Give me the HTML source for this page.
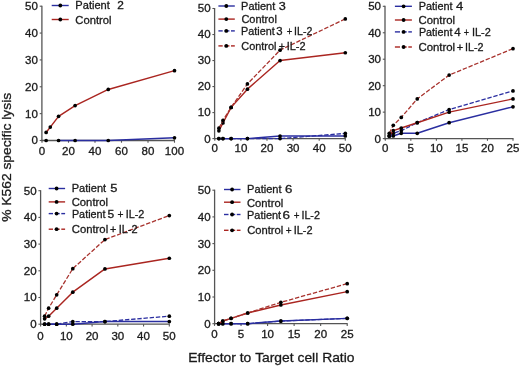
<!DOCTYPE html>
<html><head><meta charset="utf-8"><title>K562 specific lysis</title>
<style>
html,body{margin:0;padding:0;background:#fff;}
body{width:520px;height:366px;overflow:hidden;}
svg{display:block;filter:blur(0.4px);}
text{font-family:"Liberation Sans", sans-serif;fill:#1a1a1a;stroke:#1a1a1a;stroke-width:0.3px;}
</style></head><body>
<svg width="520" height="366" viewBox="0 0 520 366">
<rect width="520" height="366" fill="#fff"/>
<line x1="41.9" y1="5.7" x2="41.9" y2="141.1" stroke="#555555" stroke-width="1.3"/>
<line x1="41.3" y1="140.5" x2="175" y2="140.5" stroke="#555555" stroke-width="1.3"/>
<line x1="39.7" y1="140.5" x2="41.9" y2="140.5" stroke="#555555" stroke-width="1.1"/>
<text x="31.48" y="144.4" font-size="11" textLength="6.42" lengthAdjust="spacingAndGlyphs">0</text>
<line x1="39.7" y1="113.64" x2="41.9" y2="113.64" stroke="#555555" stroke-width="1.1"/>
<text x="25.05" y="117.54" font-size="11" textLength="12.85" lengthAdjust="spacingAndGlyphs">10</text>
<line x1="39.7" y1="86.78" x2="41.9" y2="86.78" stroke="#555555" stroke-width="1.1"/>
<text x="25.05" y="90.68" font-size="11" textLength="12.85" lengthAdjust="spacingAndGlyphs">20</text>
<line x1="39.7" y1="59.92" x2="41.9" y2="59.92" stroke="#555555" stroke-width="1.1"/>
<text x="25.05" y="63.82" font-size="11" textLength="12.85" lengthAdjust="spacingAndGlyphs">30</text>
<line x1="39.7" y1="33.06" x2="41.9" y2="33.06" stroke="#555555" stroke-width="1.1"/>
<text x="25.05" y="36.96" font-size="11" textLength="12.85" lengthAdjust="spacingAndGlyphs">40</text>
<line x1="39.7" y1="6.2" x2="41.9" y2="6.2" stroke="#555555" stroke-width="1.1"/>
<text x="25.05" y="10.1" font-size="11" textLength="12.85" lengthAdjust="spacingAndGlyphs">50</text>
<line x1="42" y1="140.5" x2="42" y2="142.7" stroke="#555555" stroke-width="1.1"/>
<text x="38.79" y="155.3" font-size="11" textLength="6.42" lengthAdjust="spacingAndGlyphs">0</text>
<line x1="68.5" y1="140.5" x2="68.5" y2="142.7" stroke="#555555" stroke-width="1.1"/>
<text x="62.08" y="155.3" font-size="11" textLength="12.85" lengthAdjust="spacingAndGlyphs">20</text>
<line x1="95" y1="140.5" x2="95" y2="142.7" stroke="#555555" stroke-width="1.1"/>
<text x="88.58" y="155.3" font-size="11" textLength="12.85" lengthAdjust="spacingAndGlyphs">40</text>
<line x1="121.5" y1="140.5" x2="121.5" y2="142.7" stroke="#555555" stroke-width="1.1"/>
<text x="115.08" y="155.3" font-size="11" textLength="12.85" lengthAdjust="spacingAndGlyphs">60</text>
<line x1="148" y1="140.5" x2="148" y2="142.7" stroke="#555555" stroke-width="1.1"/>
<text x="141.58" y="155.3" font-size="11" textLength="12.85" lengthAdjust="spacingAndGlyphs">80</text>
<line x1="174.5" y1="140.5" x2="174.5" y2="142.7" stroke="#555555" stroke-width="1.1"/>
<text x="164.86" y="155.3" font-size="11" textLength="19.27" lengthAdjust="spacingAndGlyphs">100</text>
<polyline points="58.56,140.5 75.12,140.5 108.25,140.5 174.5,137.81" fill="none" stroke="#2a2ea0" stroke-width="1.45" stroke-linejoin="round"/>
<circle cx="46.14" cy="140.5" r="1.85" fill="#000"/>
<circle cx="58.56" cy="140.5" r="1.85" fill="#000"/>
<circle cx="75.12" cy="140.5" r="1.85" fill="#000"/>
<circle cx="108.25" cy="140.5" r="1.85" fill="#000"/>
<circle cx="174.5" cy="137.81" r="1.85" fill="#000"/>
<polyline points="46.14,132.44 50.28,127.07 58.56,116.33 75.12,105.58 108.25,89.47 174.5,70.66" fill="none" stroke="#aa2520" stroke-width="1.45" stroke-linejoin="round"/>
<circle cx="46.14" cy="132.44" r="1.85" fill="#000"/>
<circle cx="50.28" cy="127.07" r="1.85" fill="#000"/>
<circle cx="58.56" cy="116.33" r="1.85" fill="#000"/>
<circle cx="75.12" cy="105.58" r="1.85" fill="#000"/>
<circle cx="108.25" cy="89.47" r="1.85" fill="#000"/>
<circle cx="174.5" cy="70.66" r="1.85" fill="#000"/>
<line x1="51.7" y1="5.5" x2="68.7" y2="5.5" stroke="#2a2ea0" stroke-width="1.4"/>
<circle cx="60.3" cy="5.5" r="1.9" fill="#000"/>
<text x="75.39" y="9.3" font-size="11" textLength="34.49" lengthAdjust="spacingAndGlyphs">Patient</text>
<text x="117.3" y="9.3" font-size="11" textLength="6.59" lengthAdjust="spacingAndGlyphs">2</text>
<line x1="51.7" y1="19.5" x2="68.7" y2="19.5" stroke="#aa2520" stroke-width="1.4"/>
<circle cx="60.3" cy="19.5" r="1.9" fill="#000"/>
<text x="75.33" y="24.1" font-size="11" textLength="36.12" lengthAdjust="spacingAndGlyphs">Control</text>
<line x1="214.6" y1="8" x2="214.6" y2="139.2" stroke="#555555" stroke-width="1.3"/>
<line x1="214" y1="138.6" x2="345.8" y2="138.6" stroke="#555555" stroke-width="1.3"/>
<line x1="212.4" y1="138.6" x2="214.6" y2="138.6" stroke="#555555" stroke-width="1.1"/>
<text x="204.18" y="142.5" font-size="11" textLength="6.42" lengthAdjust="spacingAndGlyphs">0</text>
<line x1="212.4" y1="112.58" x2="214.6" y2="112.58" stroke="#555555" stroke-width="1.1"/>
<text x="197.75" y="116.48" font-size="11" textLength="12.85" lengthAdjust="spacingAndGlyphs">10</text>
<line x1="212.4" y1="86.56" x2="214.6" y2="86.56" stroke="#555555" stroke-width="1.1"/>
<text x="197.75" y="90.46" font-size="11" textLength="12.85" lengthAdjust="spacingAndGlyphs">20</text>
<line x1="212.4" y1="60.54" x2="214.6" y2="60.54" stroke="#555555" stroke-width="1.1"/>
<text x="197.75" y="64.44" font-size="11" textLength="12.85" lengthAdjust="spacingAndGlyphs">30</text>
<line x1="212.4" y1="34.52" x2="214.6" y2="34.52" stroke="#555555" stroke-width="1.1"/>
<text x="197.75" y="38.42" font-size="11" textLength="12.85" lengthAdjust="spacingAndGlyphs">40</text>
<line x1="212.4" y1="8.5" x2="214.6" y2="8.5" stroke="#555555" stroke-width="1.1"/>
<text x="197.75" y="12.4" font-size="11" textLength="12.85" lengthAdjust="spacingAndGlyphs">50</text>
<line x1="214.8" y1="138.6" x2="214.8" y2="140.8" stroke="#555555" stroke-width="1.1"/>
<text x="211.59" y="151.9" font-size="11" textLength="6.42" lengthAdjust="spacingAndGlyphs">0</text>
<line x1="240.9" y1="138.6" x2="240.9" y2="140.8" stroke="#555555" stroke-width="1.1"/>
<text x="234.48" y="151.9" font-size="11" textLength="12.85" lengthAdjust="spacingAndGlyphs">10</text>
<line x1="267" y1="138.6" x2="267" y2="140.8" stroke="#555555" stroke-width="1.1"/>
<text x="260.58" y="151.9" font-size="11" textLength="12.85" lengthAdjust="spacingAndGlyphs">20</text>
<line x1="293.1" y1="138.6" x2="293.1" y2="140.8" stroke="#555555" stroke-width="1.1"/>
<text x="286.68" y="151.9" font-size="11" textLength="12.85" lengthAdjust="spacingAndGlyphs">30</text>
<line x1="319.2" y1="138.6" x2="319.2" y2="140.8" stroke="#555555" stroke-width="1.1"/>
<text x="312.78" y="151.9" font-size="11" textLength="12.85" lengthAdjust="spacingAndGlyphs">40</text>
<line x1="345.3" y1="138.6" x2="345.3" y2="140.8" stroke="#555555" stroke-width="1.1"/>
<text x="338.88" y="151.9" font-size="11" textLength="12.85" lengthAdjust="spacingAndGlyphs">50</text>
<polyline points="218.88,138.6 222.96,138.6 231.11,138.6 247.43,138.6 280.05,136 345.3,136" fill="none" stroke="#2a2ea0" stroke-width="1.45" stroke-linejoin="round"/>
<circle cx="218.88" cy="138.6" r="1.85" fill="#000"/>
<circle cx="222.96" cy="138.6" r="1.85" fill="#000"/>
<circle cx="231.11" cy="138.6" r="1.85" fill="#000"/>
<circle cx="247.43" cy="138.6" r="1.85" fill="#000"/>
<circle cx="280.05" cy="136" r="1.85" fill="#000"/>
<circle cx="345.3" cy="136" r="1.85" fill="#000"/>
<polyline points="218.88,138.6 222.96,138.6 231.11,138.6 247.43,138.6 280.05,138.6 345.3,133.4" fill="none" stroke="#2a2ea0" stroke-width="1.3" stroke-dasharray="4.4,1.8" stroke-linejoin="round"/>
<circle cx="218.88" cy="138.6" r="1.85" fill="#000"/>
<circle cx="222.96" cy="138.6" r="1.85" fill="#000"/>
<circle cx="231.11" cy="138.6" r="1.85" fill="#000"/>
<circle cx="247.43" cy="138.6" r="1.85" fill="#000"/>
<circle cx="280.05" cy="138.6" r="1.85" fill="#000"/>
<circle cx="345.3" cy="133.4" r="1.85" fill="#000"/>
<polyline points="218.88,130.79 222.96,122.99 231.11,107.38 247.43,89.16 280.05,60.54 345.3,52.73" fill="none" stroke="#aa2520" stroke-width="1.45" stroke-linejoin="round"/>
<circle cx="218.88" cy="130.79" r="1.85" fill="#000"/>
<circle cx="222.96" cy="122.99" r="1.85" fill="#000"/>
<circle cx="231.11" cy="107.38" r="1.85" fill="#000"/>
<circle cx="247.43" cy="89.16" r="1.85" fill="#000"/>
<circle cx="280.05" cy="60.54" r="1.85" fill="#000"/>
<circle cx="345.3" cy="52.73" r="1.85" fill="#000"/>
<polyline points="218.88,128.19 222.96,120.39 231.11,107.38 247.43,83.96 280.05,50.13 345.3,18.91" fill="none" stroke="#a8332e" stroke-width="1.3" stroke-dasharray="4.4,1.8" stroke-linejoin="round"/>
<circle cx="218.88" cy="128.19" r="1.85" fill="#000"/>
<circle cx="222.96" cy="120.39" r="1.85" fill="#000"/>
<circle cx="231.11" cy="107.38" r="1.85" fill="#000"/>
<circle cx="247.43" cy="83.96" r="1.85" fill="#000"/>
<circle cx="280.05" cy="50.13" r="1.85" fill="#000"/>
<circle cx="345.3" cy="18.91" r="1.85" fill="#000"/>
<line x1="218.4" y1="6" x2="234.8" y2="6" stroke="#2a2ea0" stroke-width="1.4"/>
<circle cx="226.3" cy="6" r="1.9" fill="#000"/>
<text x="241.1" y="9.8" font-size="11" textLength="34.08" lengthAdjust="spacingAndGlyphs">Patient</text>
<text x="278.82" y="9.8" font-size="11" textLength="7.04" lengthAdjust="spacingAndGlyphs">3</text>
<line x1="218.4" y1="19.1" x2="234.8" y2="19.1" stroke="#aa2520" stroke-width="1.4"/>
<circle cx="226.3" cy="19.1" r="1.9" fill="#000"/>
<text x="241.44" y="22.9" font-size="11" textLength="35.39" lengthAdjust="spacingAndGlyphs">Control</text>
<line x1="218.4" y1="30.9" x2="222.7" y2="30.9" stroke="#2a2ea0" stroke-width="1.4"/>
<line x1="224.5" y1="30.9" x2="229.4" y2="30.9" stroke="#2a2ea0" stroke-width="1.4"/>
<line x1="231" y1="30.9" x2="234.8" y2="30.9" stroke="#2a2ea0" stroke-width="1.4"/>
<circle cx="226.3" cy="30.9" r="1.9" fill="#000"/>
<text x="241.11" y="34.7" font-size="11" textLength="33.67" lengthAdjust="spacingAndGlyphs">Patient</text>
<text x="276.17" y="34.7" font-size="11" textLength="6.33" lengthAdjust="spacingAndGlyphs">3</text>
<text x="286.74" y="34.7" font-size="11" textLength="5.53" lengthAdjust="spacingAndGlyphs">+</text>
<text x="294.12" y="34.7" font-size="11" textLength="18.21" lengthAdjust="spacingAndGlyphs">IL-2</text>
<line x1="218.4" y1="45.9" x2="222.7" y2="45.9" stroke="#aa2520" stroke-width="1.4"/>
<line x1="224.5" y1="45.9" x2="229.4" y2="45.9" stroke="#aa2520" stroke-width="1.4"/>
<line x1="231" y1="45.9" x2="234.8" y2="45.9" stroke="#aa2520" stroke-width="1.4"/>
<circle cx="226.3" cy="45.9" r="1.9" fill="#000"/>
<text x="241.25" y="50.2" font-size="11" textLength="35.18" lengthAdjust="spacingAndGlyphs">Control</text>
<text x="278.78" y="50.2" font-size="11" textLength="6.25" lengthAdjust="spacingAndGlyphs">+</text>
<text x="286.69" y="50.2" font-size="11" textLength="18.86" lengthAdjust="spacingAndGlyphs">IL-2</text>
<line x1="385" y1="5.8" x2="385" y2="139.2" stroke="#555555" stroke-width="1.3"/>
<line x1="384.4" y1="138.6" x2="513.5" y2="138.6" stroke="#555555" stroke-width="1.3"/>
<line x1="382.8" y1="138.6" x2="385" y2="138.6" stroke="#555555" stroke-width="1.1"/>
<text x="374.58" y="142.5" font-size="11" textLength="6.42" lengthAdjust="spacingAndGlyphs">0</text>
<line x1="382.8" y1="112.14" x2="385" y2="112.14" stroke="#555555" stroke-width="1.1"/>
<text x="368.15" y="116.04" font-size="11" textLength="12.85" lengthAdjust="spacingAndGlyphs">10</text>
<line x1="382.8" y1="85.68" x2="385" y2="85.68" stroke="#555555" stroke-width="1.1"/>
<text x="368.15" y="89.58" font-size="11" textLength="12.85" lengthAdjust="spacingAndGlyphs">20</text>
<line x1="382.8" y1="59.22" x2="385" y2="59.22" stroke="#555555" stroke-width="1.1"/>
<text x="368.15" y="63.12" font-size="11" textLength="12.85" lengthAdjust="spacingAndGlyphs">30</text>
<line x1="382.8" y1="32.76" x2="385" y2="32.76" stroke="#555555" stroke-width="1.1"/>
<text x="368.15" y="36.66" font-size="11" textLength="12.85" lengthAdjust="spacingAndGlyphs">40</text>
<line x1="382.8" y1="6.3" x2="385" y2="6.3" stroke="#555555" stroke-width="1.1"/>
<text x="368.15" y="10.2" font-size="11" textLength="12.85" lengthAdjust="spacingAndGlyphs">50</text>
<line x1="385.3" y1="138.6" x2="385.3" y2="140.8" stroke="#555555" stroke-width="1.1"/>
<text x="382.09" y="152" font-size="11" textLength="6.42" lengthAdjust="spacingAndGlyphs">0</text>
<line x1="410.84" y1="138.6" x2="410.84" y2="140.8" stroke="#555555" stroke-width="1.1"/>
<text x="407.63" y="152" font-size="11" textLength="6.42" lengthAdjust="spacingAndGlyphs">5</text>
<line x1="436.38" y1="138.6" x2="436.38" y2="140.8" stroke="#555555" stroke-width="1.1"/>
<text x="429.96" y="152" font-size="11" textLength="12.85" lengthAdjust="spacingAndGlyphs">10</text>
<line x1="461.92" y1="138.6" x2="461.92" y2="140.8" stroke="#555555" stroke-width="1.1"/>
<text x="455.5" y="152" font-size="11" textLength="12.85" lengthAdjust="spacingAndGlyphs">15</text>
<line x1="487.46" y1="138.6" x2="487.46" y2="140.8" stroke="#555555" stroke-width="1.1"/>
<text x="481.04" y="152" font-size="11" textLength="12.85" lengthAdjust="spacingAndGlyphs">20</text>
<line x1="513" y1="138.6" x2="513" y2="140.8" stroke="#555555" stroke-width="1.1"/>
<text x="506.58" y="152" font-size="11" textLength="12.85" lengthAdjust="spacingAndGlyphs">25</text>
<polyline points="389.29,135.95 393.28,135.95 401.26,133.31 417.23,133.31 449.15,122.72 513,106.85" fill="none" stroke="#2a2ea0" stroke-width="1.45" stroke-linejoin="round"/>
<circle cx="389.29" cy="135.95" r="1.85" fill="#000"/>
<circle cx="393.28" cy="135.95" r="1.85" fill="#000"/>
<circle cx="401.26" cy="133.31" r="1.85" fill="#000"/>
<circle cx="417.23" cy="133.31" r="1.85" fill="#000"/>
<circle cx="449.15" cy="122.72" r="1.85" fill="#000"/>
<circle cx="513" cy="106.85" r="1.85" fill="#000"/>
<polyline points="389.29,135.95 393.28,133.31 401.26,130.66 417.23,122.72 449.15,109.49 513,90.97" fill="none" stroke="#2a2ea0" stroke-width="1.3" stroke-dasharray="4.4,1.8" stroke-linejoin="round"/>
<circle cx="389.29" cy="135.95" r="1.85" fill="#000"/>
<circle cx="393.28" cy="133.31" r="1.85" fill="#000"/>
<circle cx="401.26" cy="130.66" r="1.85" fill="#000"/>
<circle cx="417.23" cy="122.72" r="1.85" fill="#000"/>
<circle cx="449.15" cy="109.49" r="1.85" fill="#000"/>
<circle cx="513" cy="90.97" r="1.85" fill="#000"/>
<polyline points="389.29,135.95 393.28,130.66 401.26,128.02 417.23,122.72 449.15,112.14 513,98.91" fill="none" stroke="#aa2520" stroke-width="1.45" stroke-linejoin="round"/>
<circle cx="389.29" cy="135.95" r="1.85" fill="#000"/>
<circle cx="393.28" cy="130.66" r="1.85" fill="#000"/>
<circle cx="401.26" cy="128.02" r="1.85" fill="#000"/>
<circle cx="417.23" cy="122.72" r="1.85" fill="#000"/>
<circle cx="449.15" cy="112.14" r="1.85" fill="#000"/>
<circle cx="513" cy="98.91" r="1.85" fill="#000"/>
<polyline points="389.29,133.31 393.28,125.37 401.26,117.43 417.23,98.91 449.15,75.1 513,48.64" fill="none" stroke="#a8332e" stroke-width="1.3" stroke-dasharray="4.4,1.8" stroke-linejoin="round"/>
<circle cx="389.29" cy="133.31" r="1.85" fill="#000"/>
<circle cx="393.28" cy="125.37" r="1.85" fill="#000"/>
<circle cx="401.26" cy="117.43" r="1.85" fill="#000"/>
<circle cx="417.23" cy="98.91" r="1.85" fill="#000"/>
<circle cx="449.15" cy="75.1" r="1.85" fill="#000"/>
<circle cx="513" cy="48.64" r="1.85" fill="#000"/>
<line x1="394.9" y1="6.3" x2="411.9" y2="6.3" stroke="#2a2ea0" stroke-width="1.4"/>
<circle cx="403.6" cy="6.3" r="1.9" fill="#000"/>
<text x="418.71" y="10.4" font-size="11" textLength="33.87" lengthAdjust="spacingAndGlyphs">Patient</text>
<text x="456" y="10.4" font-size="11" textLength="7.28" lengthAdjust="spacingAndGlyphs">4</text>
<line x1="394.9" y1="20" x2="411.9" y2="20" stroke="#aa2520" stroke-width="1.4"/>
<circle cx="403.6" cy="20" r="1.9" fill="#000"/>
<text x="418.52" y="24.3" font-size="11" textLength="36.53" lengthAdjust="spacingAndGlyphs">Control</text>
<line x1="394.9" y1="31.9" x2="400" y2="31.9" stroke="#2a2ea0" stroke-width="1.4"/>
<line x1="401.8" y1="31.9" x2="406.7" y2="31.9" stroke="#2a2ea0" stroke-width="1.4"/>
<line x1="408.3" y1="31.9" x2="411.9" y2="31.9" stroke="#2a2ea0" stroke-width="1.4"/>
<circle cx="403.6" cy="31.9" r="1.9" fill="#000"/>
<text x="418.92" y="35.9" font-size="11" textLength="33.56" lengthAdjust="spacingAndGlyphs">Patient</text>
<text x="454.24" y="35.9" font-size="11" textLength="6.4" lengthAdjust="spacingAndGlyphs">4</text>
<text x="463.76" y="35.9" font-size="11" textLength="5.29" lengthAdjust="spacingAndGlyphs">+</text>
<text x="471.89" y="35.9" font-size="11" textLength="18.86" lengthAdjust="spacingAndGlyphs">IL-2</text>
<line x1="394.9" y1="47" x2="400" y2="47" stroke="#aa2520" stroke-width="1.4"/>
<line x1="401.8" y1="47" x2="406.7" y2="47" stroke="#aa2520" stroke-width="1.4"/>
<line x1="408.3" y1="47" x2="411.9" y2="47" stroke="#aa2520" stroke-width="1.4"/>
<circle cx="403.6" cy="47" r="1.9" fill="#000"/>
<text x="418.42" y="50.9" font-size="11" textLength="36.74" lengthAdjust="spacingAndGlyphs">Control</text>
<text x="456.76" y="50.9" font-size="11" textLength="6.49" lengthAdjust="spacingAndGlyphs">+</text>
<text x="465.01" y="50.9" font-size="11" textLength="18.53" lengthAdjust="spacingAndGlyphs">IL-2</text>
<line x1="40.6" y1="190.2" x2="40.6" y2="324.8" stroke="#555555" stroke-width="1.3"/>
<line x1="40" y1="324.2" x2="169.8" y2="324.2" stroke="#555555" stroke-width="1.3"/>
<line x1="38.4" y1="324.2" x2="40.6" y2="324.2" stroke="#555555" stroke-width="1.1"/>
<text x="30.18" y="328.1" font-size="11" textLength="6.42" lengthAdjust="spacingAndGlyphs">0</text>
<line x1="38.4" y1="297.5" x2="40.6" y2="297.5" stroke="#555555" stroke-width="1.1"/>
<text x="23.75" y="301.4" font-size="11" textLength="12.85" lengthAdjust="spacingAndGlyphs">10</text>
<line x1="38.4" y1="270.8" x2="40.6" y2="270.8" stroke="#555555" stroke-width="1.1"/>
<text x="23.75" y="274.7" font-size="11" textLength="12.85" lengthAdjust="spacingAndGlyphs">20</text>
<line x1="38.4" y1="244.1" x2="40.6" y2="244.1" stroke="#555555" stroke-width="1.1"/>
<text x="23.75" y="248" font-size="11" textLength="12.85" lengthAdjust="spacingAndGlyphs">30</text>
<line x1="38.4" y1="217.4" x2="40.6" y2="217.4" stroke="#555555" stroke-width="1.1"/>
<text x="23.75" y="221.3" font-size="11" textLength="12.85" lengthAdjust="spacingAndGlyphs">40</text>
<line x1="38.4" y1="190.7" x2="40.6" y2="190.7" stroke="#555555" stroke-width="1.1"/>
<text x="23.75" y="194.6" font-size="11" textLength="12.85" lengthAdjust="spacingAndGlyphs">50</text>
<line x1="40.6" y1="324.2" x2="40.6" y2="326.4" stroke="#555555" stroke-width="1.1"/>
<text x="37.39" y="339.5" font-size="11" textLength="6.42" lengthAdjust="spacingAndGlyphs">0</text>
<line x1="66.34" y1="324.2" x2="66.34" y2="326.4" stroke="#555555" stroke-width="1.1"/>
<text x="59.92" y="339.5" font-size="11" textLength="12.85" lengthAdjust="spacingAndGlyphs">10</text>
<line x1="92.08" y1="324.2" x2="92.08" y2="326.4" stroke="#555555" stroke-width="1.1"/>
<text x="85.66" y="339.5" font-size="11" textLength="12.85" lengthAdjust="spacingAndGlyphs">20</text>
<line x1="117.82" y1="324.2" x2="117.82" y2="326.4" stroke="#555555" stroke-width="1.1"/>
<text x="111.4" y="339.5" font-size="11" textLength="12.85" lengthAdjust="spacingAndGlyphs">30</text>
<line x1="143.56" y1="324.2" x2="143.56" y2="326.4" stroke="#555555" stroke-width="1.1"/>
<text x="137.14" y="339.5" font-size="11" textLength="12.85" lengthAdjust="spacingAndGlyphs">40</text>
<line x1="169.3" y1="324.2" x2="169.3" y2="326.4" stroke="#555555" stroke-width="1.1"/>
<text x="162.88" y="339.5" font-size="11" textLength="12.85" lengthAdjust="spacingAndGlyphs">50</text>
<polyline points="44.62,324.2 48.64,324.2 56.69,324.2 72.78,324.2 104.95,321.53 169.3,321.53" fill="none" stroke="#2a2ea0" stroke-width="1.45" stroke-linejoin="round"/>
<circle cx="44.62" cy="324.2" r="1.85" fill="#000"/>
<circle cx="48.64" cy="324.2" r="1.85" fill="#000"/>
<circle cx="56.69" cy="324.2" r="1.85" fill="#000"/>
<circle cx="72.78" cy="324.2" r="1.85" fill="#000"/>
<circle cx="104.95" cy="321.53" r="1.85" fill="#000"/>
<circle cx="169.3" cy="321.53" r="1.85" fill="#000"/>
<polyline points="44.62,324.2 48.64,324.2 56.69,324.2 72.78,321.53 104.95,321.53 169.3,316.19" fill="none" stroke="#2a2ea0" stroke-width="1.3" stroke-dasharray="4.4,1.8" stroke-linejoin="round"/>
<circle cx="44.62" cy="324.2" r="1.85" fill="#000"/>
<circle cx="48.64" cy="324.2" r="1.85" fill="#000"/>
<circle cx="56.69" cy="324.2" r="1.85" fill="#000"/>
<circle cx="72.78" cy="321.53" r="1.85" fill="#000"/>
<circle cx="104.95" cy="321.53" r="1.85" fill="#000"/>
<circle cx="169.3" cy="316.19" r="1.85" fill="#000"/>
<polyline points="44.62,318.86 48.64,316.19 56.69,308.18 72.78,292.16 104.95,268.93 169.3,258.25" fill="none" stroke="#aa2520" stroke-width="1.45" stroke-linejoin="round"/>
<circle cx="44.62" cy="318.86" r="1.85" fill="#000"/>
<circle cx="48.64" cy="316.19" r="1.85" fill="#000"/>
<circle cx="56.69" cy="308.18" r="1.85" fill="#000"/>
<circle cx="72.78" cy="292.16" r="1.85" fill="#000"/>
<circle cx="104.95" cy="268.93" r="1.85" fill="#000"/>
<circle cx="169.3" cy="258.25" r="1.85" fill="#000"/>
<polyline points="44.62,316.19 48.64,308.18 56.69,294.83 72.78,268.66 104.95,239.56 169.3,215.53" fill="none" stroke="#a8332e" stroke-width="1.3" stroke-dasharray="4.4,1.8" stroke-linejoin="round"/>
<circle cx="44.62" cy="316.19" r="1.85" fill="#000"/>
<circle cx="48.64" cy="308.18" r="1.85" fill="#000"/>
<circle cx="56.69" cy="294.83" r="1.85" fill="#000"/>
<circle cx="72.78" cy="268.66" r="1.85" fill="#000"/>
<circle cx="104.95" cy="239.56" r="1.85" fill="#000"/>
<circle cx="169.3" cy="215.53" r="1.85" fill="#000"/>
<line x1="48.7" y1="188.5" x2="65.1" y2="188.5" stroke="#2a2ea0" stroke-width="1.4"/>
<circle cx="56.6" cy="188.5" r="1.9" fill="#000"/>
<text x="71.69" y="192.4" font-size="11" textLength="34.49" lengthAdjust="spacingAndGlyphs">Patient</text>
<text x="110.38" y="192.4" font-size="11" textLength="7.16" lengthAdjust="spacingAndGlyphs">5</text>
<line x1="48.7" y1="201.9" x2="65.1" y2="201.9" stroke="#aa2520" stroke-width="1.4"/>
<circle cx="56.6" cy="201.9" r="1.9" fill="#000"/>
<text x="71.73" y="206.3" font-size="11" textLength="36.33" lengthAdjust="spacingAndGlyphs">Control</text>
<line x1="48.7" y1="213.6" x2="53" y2="213.6" stroke="#2a2ea0" stroke-width="1.4"/>
<line x1="54.8" y1="213.6" x2="59.7" y2="213.6" stroke="#2a2ea0" stroke-width="1.4"/>
<line x1="61.3" y1="213.6" x2="65.1" y2="213.6" stroke="#2a2ea0" stroke-width="1.4"/>
<circle cx="56.6" cy="213.6" r="1.9" fill="#000"/>
<text x="71.91" y="217.9" font-size="11" textLength="33.67" lengthAdjust="spacingAndGlyphs">Patient</text>
<text x="107.52" y="217.9" font-size="11" textLength="6.69" lengthAdjust="spacingAndGlyphs">5</text>
<text x="117.6" y="217.9" font-size="11" textLength="6.01" lengthAdjust="spacingAndGlyphs">+</text>
<text x="125.7" y="217.9" font-size="11" textLength="18.64" lengthAdjust="spacingAndGlyphs">IL-2</text>
<line x1="48.7" y1="229.2" x2="53" y2="229.2" stroke="#aa2520" stroke-width="1.4"/>
<line x1="54.8" y1="229.2" x2="59.7" y2="229.2" stroke="#aa2520" stroke-width="1.4"/>
<line x1="61.3" y1="229.2" x2="65.1" y2="229.2" stroke="#aa2520" stroke-width="1.4"/>
<circle cx="56.6" cy="229.2" r="1.9" fill="#000"/>
<text x="71.73" y="233.2" font-size="11" textLength="36.43" lengthAdjust="spacingAndGlyphs">Control</text>
<text x="110.07" y="233.2" font-size="11" textLength="6.37" lengthAdjust="spacingAndGlyphs">+</text>
<text x="118.69" y="233.2" font-size="11" textLength="18.86" lengthAdjust="spacingAndGlyphs">IL-2</text>
<line x1="214.6" y1="189.7" x2="214.6" y2="324.3" stroke="#555555" stroke-width="1.3"/>
<line x1="214" y1="323.7" x2="347.7" y2="323.7" stroke="#555555" stroke-width="1.3"/>
<line x1="212.4" y1="323.7" x2="214.6" y2="323.7" stroke="#555555" stroke-width="1.1"/>
<text x="204.18" y="327.6" font-size="11" textLength="6.42" lengthAdjust="spacingAndGlyphs">0</text>
<line x1="212.4" y1="297" x2="214.6" y2="297" stroke="#555555" stroke-width="1.1"/>
<text x="197.75" y="300.9" font-size="11" textLength="12.85" lengthAdjust="spacingAndGlyphs">10</text>
<line x1="212.4" y1="270.3" x2="214.6" y2="270.3" stroke="#555555" stroke-width="1.1"/>
<text x="197.75" y="274.2" font-size="11" textLength="12.85" lengthAdjust="spacingAndGlyphs">20</text>
<line x1="212.4" y1="243.6" x2="214.6" y2="243.6" stroke="#555555" stroke-width="1.1"/>
<text x="197.75" y="247.5" font-size="11" textLength="12.85" lengthAdjust="spacingAndGlyphs">30</text>
<line x1="212.4" y1="216.9" x2="214.6" y2="216.9" stroke="#555555" stroke-width="1.1"/>
<text x="197.75" y="220.8" font-size="11" textLength="12.85" lengthAdjust="spacingAndGlyphs">40</text>
<line x1="212.4" y1="190.2" x2="214.6" y2="190.2" stroke="#555555" stroke-width="1.1"/>
<text x="197.75" y="194.1" font-size="11" textLength="12.85" lengthAdjust="spacingAndGlyphs">50</text>
<line x1="214.5" y1="323.7" x2="214.5" y2="325.9" stroke="#555555" stroke-width="1.1"/>
<text x="211.29" y="338" font-size="11" textLength="6.42" lengthAdjust="spacingAndGlyphs">0</text>
<line x1="241.04" y1="323.7" x2="241.04" y2="325.9" stroke="#555555" stroke-width="1.1"/>
<text x="237.83" y="338" font-size="11" textLength="6.42" lengthAdjust="spacingAndGlyphs">5</text>
<line x1="267.58" y1="323.7" x2="267.58" y2="325.9" stroke="#555555" stroke-width="1.1"/>
<text x="261.16" y="338" font-size="11" textLength="12.85" lengthAdjust="spacingAndGlyphs">10</text>
<line x1="294.12" y1="323.7" x2="294.12" y2="325.9" stroke="#555555" stroke-width="1.1"/>
<text x="287.7" y="338" font-size="11" textLength="12.85" lengthAdjust="spacingAndGlyphs">15</text>
<line x1="320.66" y1="323.7" x2="320.66" y2="325.9" stroke="#555555" stroke-width="1.1"/>
<text x="314.24" y="338" font-size="11" textLength="12.85" lengthAdjust="spacingAndGlyphs">20</text>
<line x1="347.2" y1="323.7" x2="347.2" y2="325.9" stroke="#555555" stroke-width="1.1"/>
<text x="340.78" y="338" font-size="11" textLength="12.85" lengthAdjust="spacingAndGlyphs">25</text>
<polyline points="218.65,323.7 222.79,323.7 231.09,323.7 247.68,323.7 280.85,321.03 347.2,318.36" fill="none" stroke="#2a2ea0" stroke-width="1.3" stroke-dasharray="4.4,1.8" stroke-linejoin="round"/>
<circle cx="218.65" cy="323.7" r="1.85" fill="#000"/>
<circle cx="222.79" cy="323.7" r="1.85" fill="#000"/>
<circle cx="231.09" cy="323.7" r="1.85" fill="#000"/>
<circle cx="247.68" cy="323.7" r="1.85" fill="#000"/>
<circle cx="280.85" cy="321.03" r="1.85" fill="#000"/>
<circle cx="347.2" cy="318.36" r="1.85" fill="#000"/>
<polyline points="218.65,323.7 222.79,323.7 231.09,323.7 247.68,323.7 280.85,321.03 347.2,318.36" fill="none" stroke="#2a2ea0" stroke-width="1.45" stroke-linejoin="round"/>
<circle cx="218.65" cy="323.7" r="1.85" fill="#000"/>
<circle cx="222.79" cy="323.7" r="1.85" fill="#000"/>
<circle cx="231.09" cy="323.7" r="1.85" fill="#000"/>
<circle cx="247.68" cy="323.7" r="1.85" fill="#000"/>
<circle cx="280.85" cy="321.03" r="1.85" fill="#000"/>
<circle cx="347.2" cy="318.36" r="1.85" fill="#000"/>
<polyline points="218.65,323.7 222.79,321.03 231.09,318.36 247.68,313.02 280.85,305.01 347.2,291.66" fill="none" stroke="#aa2520" stroke-width="1.45" stroke-linejoin="round"/>
<circle cx="218.65" cy="323.7" r="1.85" fill="#000"/>
<circle cx="222.79" cy="321.03" r="1.85" fill="#000"/>
<circle cx="231.09" cy="318.36" r="1.85" fill="#000"/>
<circle cx="247.68" cy="313.02" r="1.85" fill="#000"/>
<circle cx="280.85" cy="305.01" r="1.85" fill="#000"/>
<circle cx="347.2" cy="291.66" r="1.85" fill="#000"/>
<polyline points="218.65,323.7 222.79,321.03 231.09,318.36 247.68,313.02 280.85,302.34 347.2,283.65" fill="none" stroke="#a8332e" stroke-width="1.3" stroke-dasharray="4.4,1.8" stroke-linejoin="round"/>
<circle cx="218.65" cy="323.7" r="1.85" fill="#000"/>
<circle cx="222.79" cy="321.03" r="1.85" fill="#000"/>
<circle cx="231.09" cy="318.36" r="1.85" fill="#000"/>
<circle cx="247.68" cy="313.02" r="1.85" fill="#000"/>
<circle cx="280.85" cy="302.34" r="1.85" fill="#000"/>
<circle cx="347.2" cy="283.65" r="1.85" fill="#000"/>
<line x1="224" y1="189.5" x2="240.5" y2="189.5" stroke="#2a2ea0" stroke-width="1.4"/>
<circle cx="232.1" cy="189.5" r="1.9" fill="#000"/>
<text x="247.09" y="193.3" font-size="11" textLength="34.49" lengthAdjust="spacingAndGlyphs">Patient</text>
<text x="285.13" y="193.3" font-size="11" textLength="7.35" lengthAdjust="spacingAndGlyphs">6</text>
<line x1="224" y1="202.2" x2="240.5" y2="202.2" stroke="#aa2520" stroke-width="1.4"/>
<circle cx="232.1" cy="202.2" r="1.9" fill="#000"/>
<text x="247.03" y="206.8" font-size="11" textLength="36.12" lengthAdjust="spacingAndGlyphs">Control</text>
<line x1="224" y1="214.5" x2="228.5" y2="214.5" stroke="#2a2ea0" stroke-width="1.4"/>
<line x1="230.3" y1="214.5" x2="235.2" y2="214.5" stroke="#2a2ea0" stroke-width="1.4"/>
<line x1="236.8" y1="214.5" x2="240.5" y2="214.5" stroke="#2a2ea0" stroke-width="1.4"/>
<circle cx="232.1" cy="214.5" r="1.9" fill="#000"/>
<text x="247.1" y="219.4" font-size="11" textLength="33.98" lengthAdjust="spacingAndGlyphs">Patient</text>
<text x="282.62" y="219.4" font-size="11" textLength="7.47" lengthAdjust="spacingAndGlyphs">6</text>
<text x="293.72" y="219.4" font-size="11" textLength="5.77" lengthAdjust="spacingAndGlyphs">+</text>
<text x="301.41" y="219.4" font-size="11" textLength="18.53" lengthAdjust="spacingAndGlyphs">IL-2</text>
<line x1="224" y1="230.3" x2="228.5" y2="230.3" stroke="#aa2520" stroke-width="1.4"/>
<line x1="230.3" y1="230.3" x2="235.2" y2="230.3" stroke="#aa2520" stroke-width="1.4"/>
<line x1="236.8" y1="230.3" x2="240.5" y2="230.3" stroke="#aa2520" stroke-width="1.4"/>
<circle cx="232.1" cy="230.3" r="1.9" fill="#000"/>
<text x="247.23" y="234.4" font-size="11" textLength="36.01" lengthAdjust="spacingAndGlyphs">Control</text>
<text x="285.81" y="234.4" font-size="11" textLength="5.89" lengthAdjust="spacingAndGlyphs">+</text>
<text x="293.69" y="234.4" font-size="11" textLength="18.86" lengthAdjust="spacingAndGlyphs">IL-2</text>
<g transform="translate(11.1 0) rotate(-90)"><text x="-221.79" y="0" font-size="13.6" textLength="128.89" lengthAdjust="spacingAndGlyphs">% K562 specific lysis</text></g>
<text x="188.38" y="362" font-size="13.6" textLength="166.1" lengthAdjust="spacingAndGlyphs">Effector to Target cell Ratio</text>
</svg>
</body></html>
